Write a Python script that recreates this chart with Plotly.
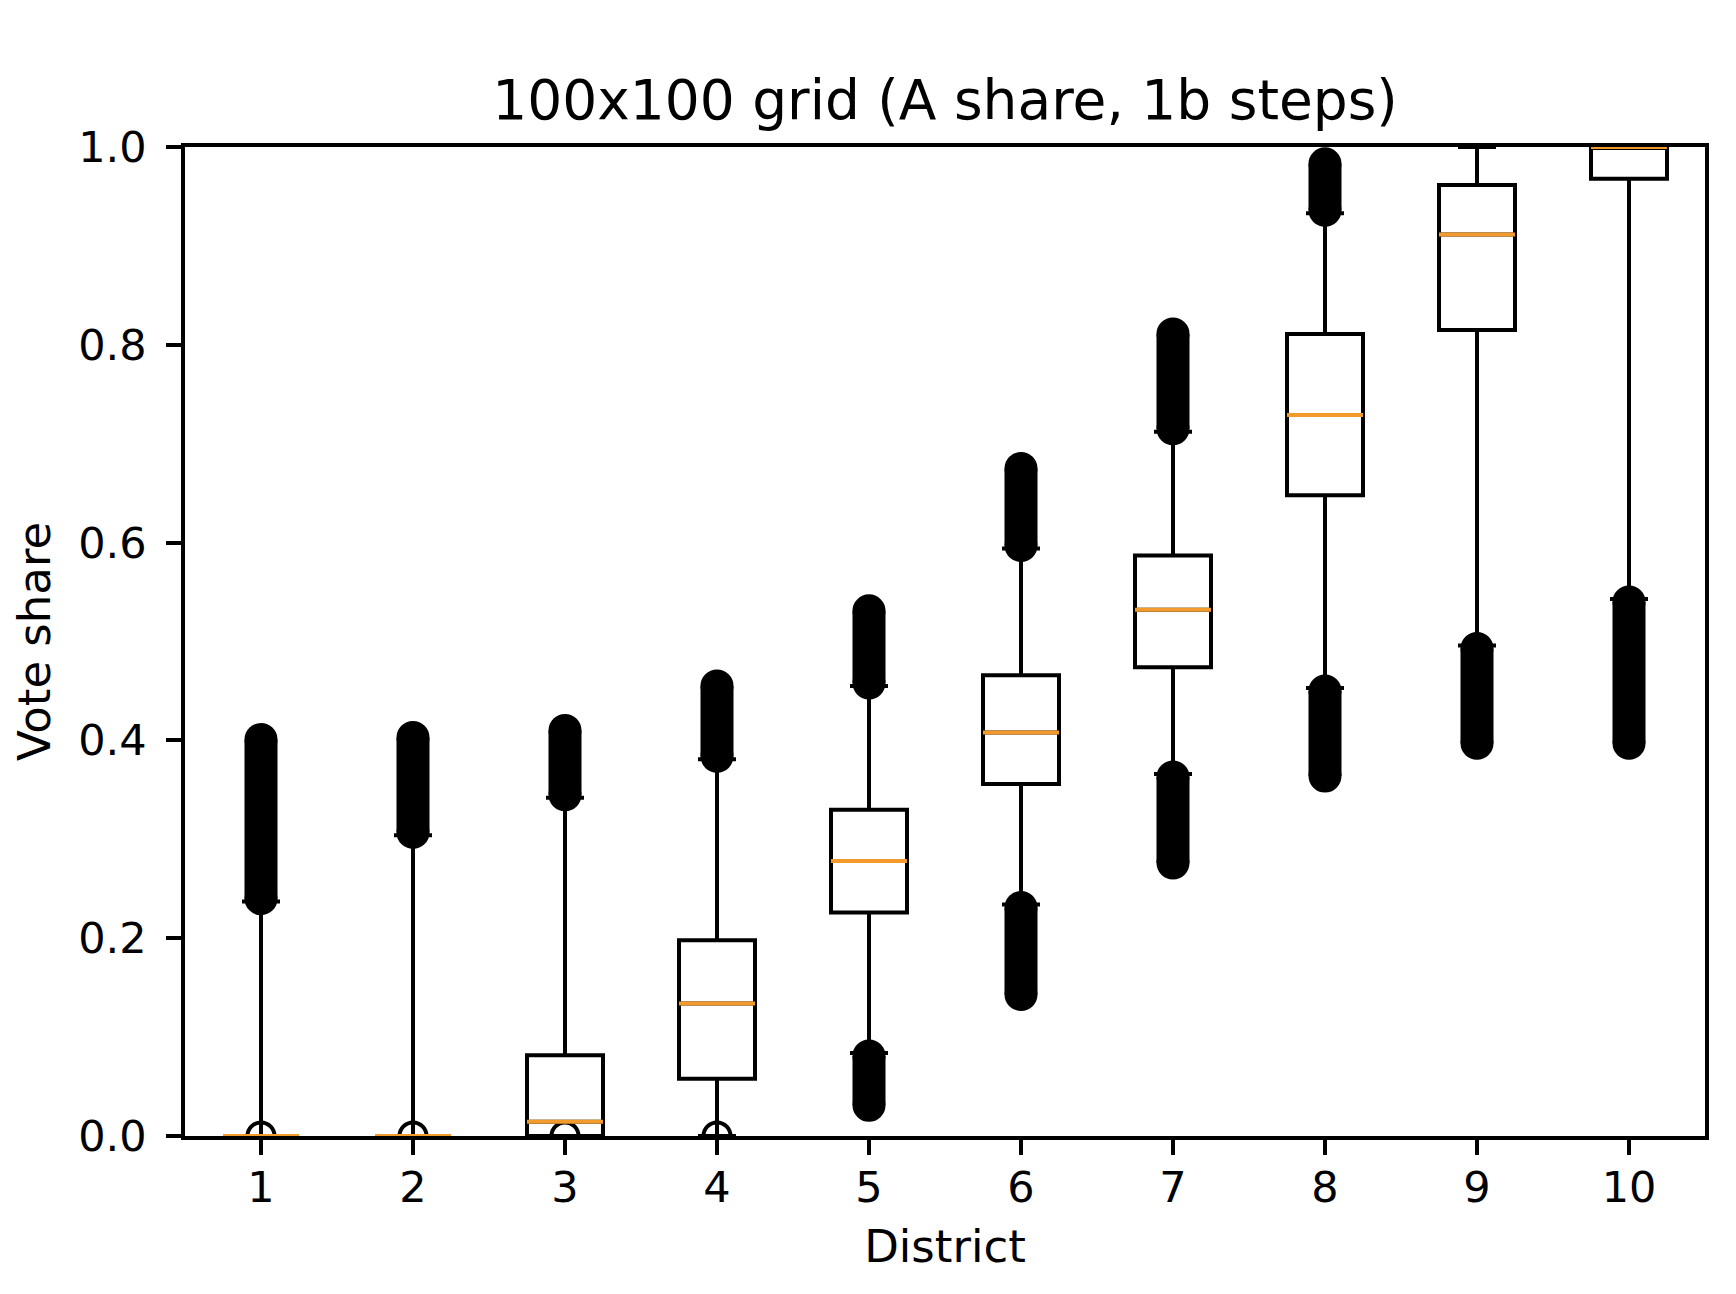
import plotly.graph_objects as go

# ---------------- data ----------------
districts = [1, 2, 3, 4, 5, 6, 7, 8, 9, 10]
q1 = [0.0, 0.0, 0.0, 0.058, 0.226, 0.356, 0.474, 0.648, 0.815, 0.968]
median = [0.0, 0.0, 0.0145, 0.134, 0.278, 0.408, 0.532, 0.729, 0.9115, 1.0]
q3 = [0.0, 0.0, 0.0816, 0.198, 0.330, 0.466, 0.587, 0.811, 0.9617, 1.0]
lower_whisker = [0.0, 0.0, 0.0, 0.0, 0.084, 0.234, 0.366, 0.453, 0.496, 0.543]
upper_whisker = [0.237, 0.304, 0.342, 0.381, 0.455, 0.594, 0.712, 0.933, 1.0, 1.0]

# outlier (flier) clouds: ranges of the dense flier columns
upper_flier_low = [0.240, 0.307, 0.345, 0.384, 0.458, 0.597, 0.715, 0.936, None, None]
upper_flier_high = [0.401, 0.403, 0.410, 0.455, 0.531, 0.675, 0.811, 0.983, None, None]
lower_flier_low = [None, None, None, None, 0.031, 0.143, 0.276, 0.364, 0.397, 0.397]
lower_flier_high = [None, None, None, None, 0.081, 0.231, 0.363, 0.450, 0.493, 0.540]
zero_flier = [0.0, 0.0, 0.0, 0.0, None, None, None, None, None, None]

title_text = "100x100 grid (A share, 1b steps)"
x_label = "District"
y_label = "Vote share"
y_ticks = [0.0, 0.2, 0.4, 0.6, 0.8, 1.0]

# ---------------- styles ----------------
FONT = "DejaVu Sans"
BLACK = "#000000"
ORANGE = "#f39a2c"
LW = 4
BOX_W = 0.5
FLIER_SIZE = 29

fig = go.Figure()

# flier columns (drawn as dense overlapping circles -> rounded bar)
for lo_arr, hi_arr in [(upper_flier_low, upper_flier_high), (lower_flier_low, lower_flier_high)]:
    xs, ys = [], []
    for d, lo, hi in zip(districts, lo_arr, hi_arr):
        if lo is None:
            continue
        xs += [d, d, None]
        ys += [lo, hi, None]
    fig.add_trace(go.Scatter(
        x=xs, y=ys, mode="lines+markers",
        line=dict(color=BLACK, width=FLIER_SIZE + LW),
        marker=dict(symbol="circle", size=FLIER_SIZE, color=BLACK,
                    line=dict(color=BLACK, width=LW)),
        hoverinfo="skip", showlegend=False, cliponaxis=True,
    ))

# boxes
fig.add_trace(go.Box(
    x=districts, q1=q1, median=median, q3=q3,
    lowerfence=lower_whisker, upperfence=upper_whisker,
    width=BOX_W, whiskerwidth=0.5,
    fillcolor="rgba(255,255,255,1)",
    line=dict(color=BLACK, width=LW),
    boxpoints=False, showlegend=False,
))

# single open-circle fliers at zero
zx = [d for d, z in zip(districts, zero_flier) if z is not None]
zy = [z for z in zero_flier if z is not None]
fig.add_trace(go.Scatter(
    x=zx, y=zy, mode="markers",
    marker=dict(symbol="circle-open", size=FLIER_SIZE - 2, color=BLACK,
                line=dict(color=BLACK, width=LW)),
    hoverinfo="skip", showlegend=False, cliponaxis=True,
))

# orange median lines
mx, my = [], []
for d, m in zip(districts, median):
    mx += [d - BOX_W / 2, d + BOX_W / 2, None]
    my += [m, m, None]
fig.add_trace(go.Scatter(
    x=mx, y=my, mode="lines",
    line=dict(color=ORANGE, width=LW),
    hoverinfo="skip", showlegend=False, cliponaxis=True,
))

axis_common = dict(
    showline=True, linecolor=BLACK, linewidth=3.5, mirror=True,
    ticks="outside", ticklen=15, tickwidth=3.5, tickcolor=BLACK,
    showgrid=False, zeroline=False,
    tickfont=dict(family=FONT, size=43, color=BLACK),
)

fig.update_layout(
    width=1736, height=1294,
    paper_bgcolor="white", plot_bgcolor="white",
    margin=dict(l=177, r=39, t=139, b=166),
    font=dict(family=FONT, color=BLACK),
    title=dict(text=title_text, x=0.5, xref="paper", xanchor="center",
               y=1 - 92 / 1294, yref="container", yanchor="middle",
               font=dict(family=FONT, size=55, color=BLACK)),
    xaxis=dict(range=[0.5, 10.5], tickvals=districts,
               ticktext=[str(d) for d in districts],
               ticklabelstandoff=-4,
               title=dict(text=x_label, font=dict(family=FONT, size=45, color=BLACK), standoff=20),
               **axis_common),
    yaxis=dict(range=[0, 1], tickvals=y_ticks, tickformat=".1f",
               ticklabelstandoff=11,
               title=dict(text=y_label, font=dict(family=FONT, size=45, color=BLACK), standoff=20),
               **axis_common),
)

fig.write_html("out.html")
